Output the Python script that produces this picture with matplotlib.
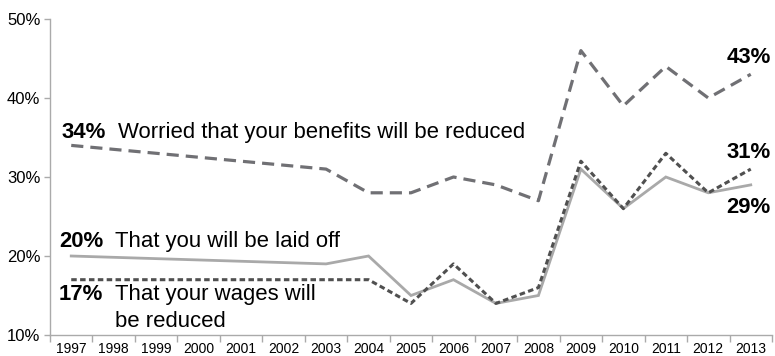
import matplotlib.pyplot as plt
import numpy as np

# Survey years (categorical axis) and the share worried about each outcome (%)
years = ["1997", "1998", "1999", "2000", "2001", "2002", "2003", "2004", "2005",
         "2006", "2007", "2008", "2009", "2010", "2011", "2012", "2013"]
surveyed = ["1997", "2003", "2004", "2005", "2006", "2007", "2008",
            "2009", "2010", "2011", "2012", "2013"]
benefits = [34, 31, 28, 28, 30, 29, 27, 46, 39, 44, 40, 43]
laid_off = [20, 19, 20, 15, 17, 14, 15, 31, 26, 30, 28, 29]
wages = [17, 17, 17, 14, 19, 14, 16, 32, 26, 33, 28, 31]

plt.rcParams["font.family"] = ["Liberation Sans", "DejaVu Sans"]

fig = plt.figure(figsize=(7.75, 3.56), dpi=100)
ax = fig.add_axes([50 / 775, 21 / 356, 722 / 775, 316 / 356])

x = [years.index(y) for y in surveyed]

ax.plot(x, benefits, color="#707074", lw=2.3, linestyle=(0, (3.8, 2.2)),
        solid_joinstyle="miter", dash_capstyle="butt")
ax.plot(x, laid_off, color="#a9a9a9", lw=2.0, solid_joinstyle="miter")
ax.plot(x, wages, color="#505050", lw=2.2, linestyle=(0, (1.8, 1.1)),
        dash_capstyle="butt")

ax.set_xlim(-0.5, len(years) - 0.5)
ax.set_ylim(10, 50)

# Year labels sit between tick marks at category boundaries
ax.set_xticks(np.arange(len(years)))
ax.set_xticklabels(years, fontsize=10)
ax.set_xticks(np.arange(len(years) + 1) - 0.5, minor=True)
ax.tick_params(axis="x", which="major", length=0, pad=5)
ax.tick_params(axis="x", which="minor", length=5, width=1, color="#aaaaaa")

ax.set_yticks([10, 20, 30, 40, 50])
ax.set_yticklabels([f"{v}%" for v in [10, 20, 30, 40, 50]], fontsize=12)
ax.tick_params(axis="y", length=4, width=1, color="#aaaaaa", pad=3)

for side in ["top", "right"]:
    ax.spines[side].set_visible(False)
for side in ["left", "bottom"]:
    ax.spines[side].set_color("#aaaaaa")
    ax.spines[side].set_linewidth(1)

# Series labels
fs = 15.9
ax.text(-0.22, 34.9, f"{benefits[0]}%", fontsize=fs, fontweight="bold", va="baseline")
ax.text(1.1, 34.9, "Worried that your benefits will be reduced", fontsize=fs, va="baseline")
ax.text(-0.29, 21.1, f"{laid_off[0]}%", fontsize=fs, fontweight="bold", va="baseline")
ax.text(1.03, 21.1, "That you will be laid off", fontsize=fs, va="baseline")
ax.text(-0.29, 14.4, f"{wages[0]}%", fontsize=fs, fontweight="bold", va="baseline")
ax.text(1.03, 14.4, "That your wages will", fontsize=fs, va="baseline")
ax.text(1.03, 11.0, "be reduced", fontsize=fs, va="baseline")

ax.text(16.47, 44.4, f"{benefits[-1]}%", fontsize=fs, fontweight="bold",
        va="baseline", ha="right")
ax.text(16.47, 32.4, f"{wages[-1]}%", fontsize=fs, fontweight="bold",
        va="baseline", ha="right")
ax.text(16.47, 25.4, f"{laid_off[-1]}%", fontsize=fs, fontweight="bold",
        va="baseline", ha="right")

fig.savefig("out.png", dpi=100)
